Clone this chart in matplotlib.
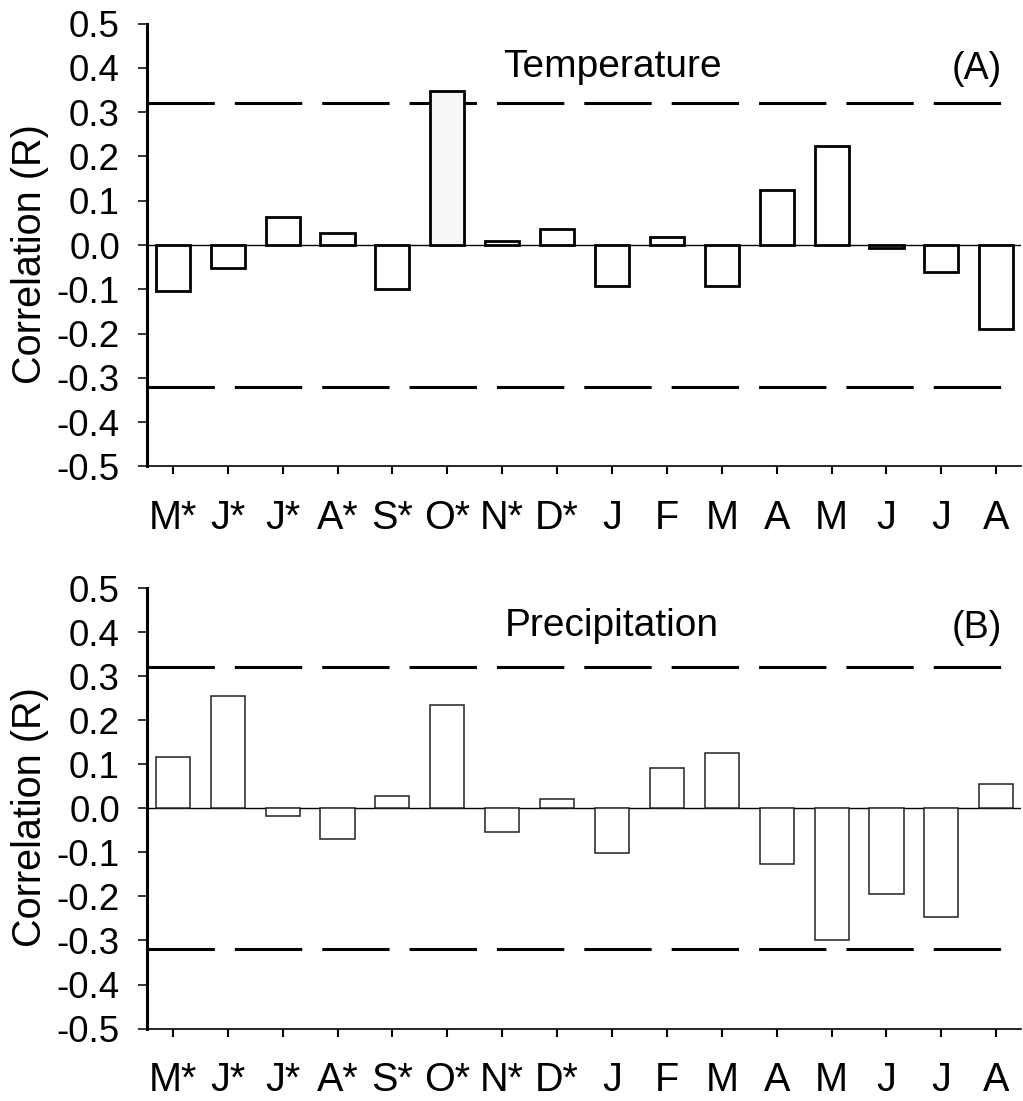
import matplotlib
matplotlib.use("Agg")
import matplotlib.pyplot as plt
import numpy as np

months = ["M*", "J*", "J*", "A*", "S*", "O*", "N*", "D*", "J", "F", "M", "A", "M", "J", "J", "A"]
temperature = [-0.104, -0.053, 0.063, 0.028, -0.100, 0.348, 0.008, 0.036,
               -0.092, 0.018, -0.092, 0.125, 0.223, -0.006, -0.060, -0.190]
precipitation = [0.117, 0.256, -0.017, -0.070, 0.027, 0.234, -0.054, 0.020,
                 -0.102, 0.091, 0.125, -0.127, -0.299, -0.195, -0.247, 0.055]
significance = 0.32
yticks = [0.5, 0.4, 0.3, 0.2, 0.1, 0.0, -0.1, -0.2, -0.3, -0.4, -0.5]
ytick_labels = ["0.5", "0.4", "0.3", "0.2", "0.1", "0.0", "-0.1", "-0.2", "-0.3", "-0.4", "-0.5"]
panel_titles = ["Temperature", "Precipitation"]
panel_tags = ["(A)", "(B)"]

plt.rcParams["font.family"] = ["Liberation Sans", "DejaVu Sans"]

W, H = 1023, 1101
fig = plt.figure(figsize=(W / 100, H / 100), dpi=100)

def px_axes(left, top, right, bottom):
    return fig.add_axes([left / W, 1 - bottom / H, (right - left) / W, (bottom - top) / H])

axes = [px_axes(147, 23.6, 1021, 466.4), px_axes(147, 588, 1021, 1028.6)]
data = [temperature, precipitation]
x = np.arange(len(months))

for i, ax in enumerate(axes):
    vals = data[i]
    if i == 0:
        colors = ["#f7f7f7" if abs(v) > significance else "white" for v in vals]
        ax.bar(x, vals, width=0.62, color=colors, edgecolor="black", linewidth=2.0, zorder=3)
    else:
        ax.bar(x, vals, width=0.62, color="white", edgecolor="#222222", linewidth=1.1, zorder=3)
    ax.axhline(0, color="black", linewidth=1.0, zorder=2)
    lw = 2.2
    for s in (significance, -significance):
        ax.axhline(s, color="black", linewidth=lw, dashes=(48.5 / lw, 14.4 / lw), zorder=1,
                   dash_capstyle="butt")
    ax.set_xlim(-0.47, 15.45)
    ax.set_ylim(-0.5, 0.5)
    ax.set_yticks(yticks)
    ax.set_yticklabels(ytick_labels)
    ax.set_xticks(x)
    ax.set_xticklabels(months)
    for sp in ("top", "right"):
        ax.spines[sp].set_visible(False)
    ax.spines["left"].set_linewidth(2.2)
    ax.spines["bottom"].set_linewidth(1.2)
    ax.tick_params(axis="y", direction="out", length=6.5, width=1.1, pad=13, labelsize=26.5)
    ax.tick_params(axis="x", direction="out", length=6, width=1.5, pad=17.5, labelsize=28.5)
    ax.text(8.0, 0.380 if i == 0 else 0.392, panel_titles[i], ha="center", va="baseline", fontsize=28)
    ax.text(14.65, 0.374 if i == 0 else 0.386, panel_tags[i], ha="center", va="baseline", fontsize=27)
    ax.text(-0.134, 0.48, "Correlation (R)", rotation=90, ha="center", va="center",
            fontsize=28.5, transform=ax.transAxes)

fig.savefig("out.png", dpi=100)
